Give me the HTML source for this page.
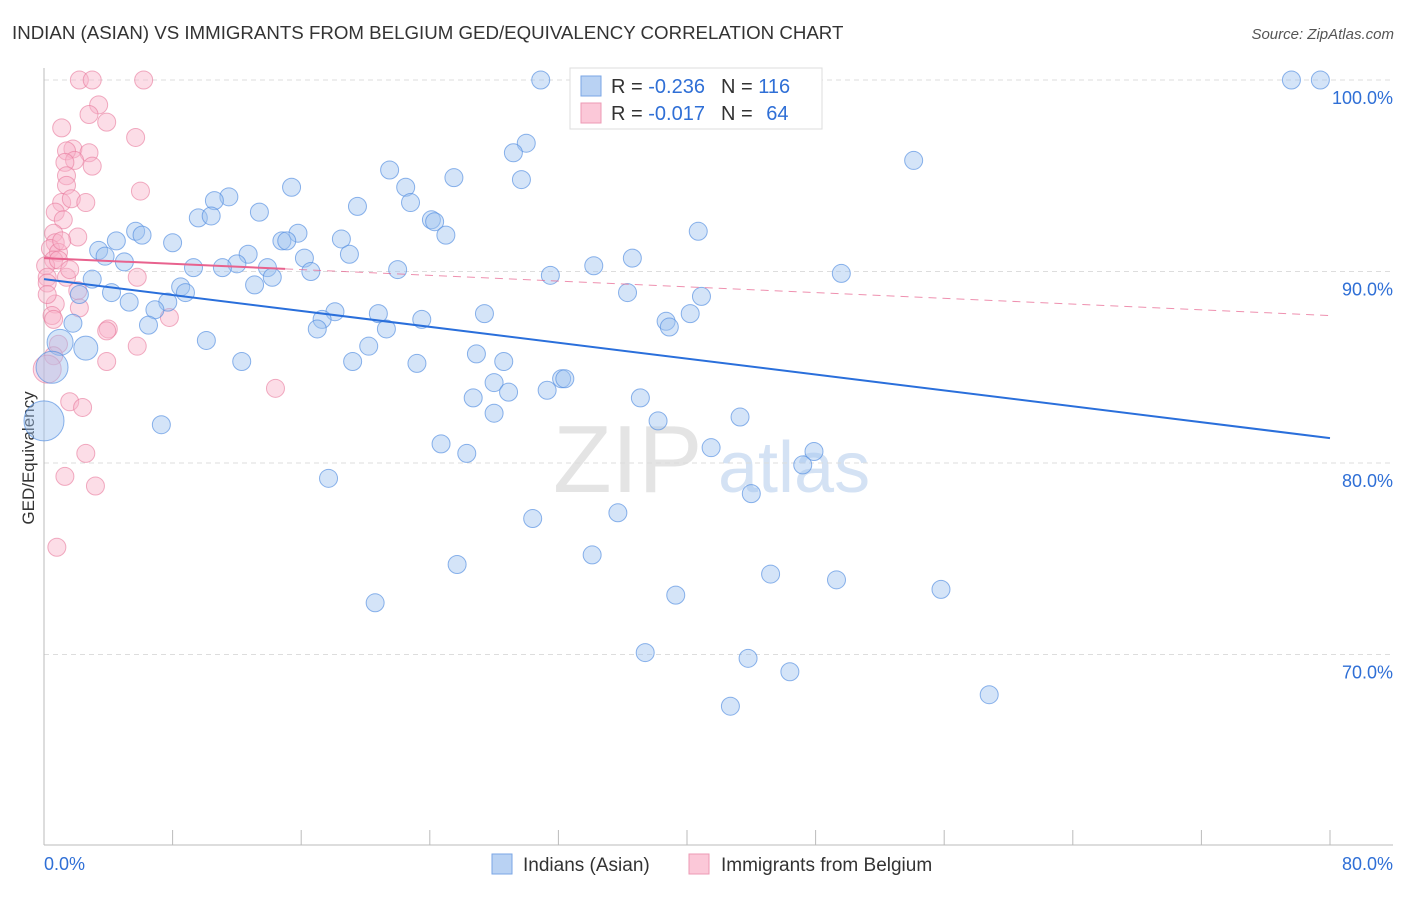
<!DOCTYPE html>
<html><head><meta charset="utf-8"><style>
body{margin:0;background:#fff;font-family:"Liberation Sans",sans-serif}
svg text{font-family:"Liberation Sans",sans-serif}
</style></head><body>
<svg id="chart" width="1406" height="892" viewBox="0 0 1406 892">
<text x="12" y="39" font-size="18.7" fill="#333">INDIAN (ASIAN) VS IMMIGRANTS FROM BELGIUM GED/EQUIVALENCY CORRELATION CHART</text>
<text x="1394" y="39" font-size="15" fill="#555" text-anchor="end" font-style="italic">Source: ZipAtlas.com</text>
<text transform="translate(34,458) rotate(-90)" font-size="17" fill="#333" text-anchor="middle">GED/Equivalency</text>
<g>
<text x="553" y="492" font-size="96" font-family="Liberation Serif,serif" fill="#e4e4e4">ZIP</text>
<text x="718" y="492" font-size="72" fill="#d4e2f4">atlas</text>
</g>
<g id="grid"></g>
<g id="axes"></g>
<g id="pts"></g>
<g id="trend"></g>
<g>
<rect x="570" y="68" width="252" height="61" fill="#fff" stroke="#ddd"/>
<rect x="581" y="76" width="20" height="20" fill="#b9d2f3" stroke="#7aa6e6"/>
<text x="611" y="93" font-size="20" fill="#333">R = <tspan fill="#2f6fd6">-0.236</tspan><tspan dx="16">N = </tspan><tspan fill="#2f6fd6">116</tspan></text>
<rect x="581" y="103" width="20" height="20" fill="#fbc8d8" stroke="#ec9ab4"/>
<text x="611" y="120" font-size="20" fill="#333">R = <tspan fill="#2f6fd6">-0.017</tspan><tspan dx="16">N = </tspan><tspan fill="#2f6fd6" dx="8">64</tspan></text>
</g>
<g>
<rect x="492" y="854" width="20" height="20" fill="#b9d2f3" stroke="#7aa6e6"/>
<text x="523" y="871" font-size="19" fill="#333">Indians (Asian)</text>
<rect x="689" y="854" width="20" height="20" fill="#fbc8d8" stroke="#ec9ab4"/>
<text x="721" y="871" font-size="19" fill="#333">Immigrants from Belgium</text>
</g>
</svg>
<script>
const yTicks=[100,90,80,70];
const yTickLabels=["100.0%","90.0%","80.0%","70.0%"];
const xTicks=[0,8,16,24,32,40,48,56,64,72,80];
const xEndLabels=["0.0%","80.0%"];
const blueX=[30.9,46.8,77.6,79.4,30.0,29.2,54.1,21.5,25.5,29.7,15.4,22.5,11.5,10.6,22.8,19.5,13.4,9.6,10.4,24.1,24.3,5.7,6.1,40.7,25.0,15.8,18.5,4.5,8.0,14.8,15.1,3.4,3.8,12.7,19.0,36.6,5.0,16.2,12.0,11.1,9.3,13.9,34.2,22.0,31.5,14.2,16.6,49.6,3.0,13.1,8.5,36.3,2.2,4.2,8.8,40.9,5.3,7.7,6.9,18.1,27.4,20.8,40.2,17.3,23.5,1.8,6.5,38.7,38.9,17.0,21.3,10.1,1.0,2.6,20.2,26.9,12.3,19.2,28.6,23.2,0.5,32.2,32.4,28.0,28.9,31.3,26.7,37.1,43.3,28.0,38.2,7.3,0,24.7,41.5,47.9,26.3,47.2,17.7,44.0,30.4,35.7,34.1,25.7,45.2,49.3,55.8,39.3,20.6,37.4,43.8,46.4,58.8,42.7];
const blueY=[100,100,100,100,96.7,96.2,95.8,95.3,94.9,94.8,94.4,94.4,93.9,93.7,93.6,93.4,93.1,92.8,92.9,92.7,92.6,92.1,91.9,92.1,91.9,92.0,91.7,91.6,91.5,91.6,91.6,91.1,90.8,90.9,90.9,90.7,90.5,90.7,90.4,90.2,90.2,90.2,90.3,90.1,89.8,89.7,90.0,89.9,89.6,89.3,89.2,88.9,88.8,88.9,88.9,88.7,88.4,88.4,88.0,87.9,87.8,87.8,87.8,87.5,87.5,87.3,87.2,87.4,87.1,87.0,87.0,86.4,86.3,86.0,86.1,85.7,85.3,85.3,85.3,85.2,85.0,84.4,84.4,84.2,83.7,83.8,83.4,83.4,82.4,82.6,82.2,82.0,82.2,81.0,80.8,80.6,80.5,79.9,79.2,78.4,77.1,77.4,75.2,74.7,74.2,73.9,73.4,73.1,72.7,70.1,69.8,69.1,67.9,67.3];
const blueBig={80:16,92:20,72:13,73:12};
const pinkX=[2.2,3.0,6.2,3.4,2.8,3.9,1.1,5.7,1.8,1.4,2.8,1.9,1.3,3.0,6.0,1.4,1.4,1.1,1.7,2.6,0.7,1.2,2.1,0.6,0.7,0.4,0.9,0.6,0.1,0.9,1.4,0.2,5.8,2.1,0.7,2.2,0.5,0.6,7.8,0.2,4.0,3.9,0.9,0.6,5.8,3.9,0.2,14.4,1.6,2.4,2.6,1.3,3.2,0.8,0.2,1.1,1.6];
const pinkY=[100,100,100,98.7,98.2,97.8,97.5,97.0,96.4,96.3,96.2,95.8,95.7,95.5,94.2,95.0,94.5,93.6,93.8,93.6,93.1,92.7,91.8,92.0,91.5,91.2,91.0,90.6,90.3,90.6,89.7,89.7,89.7,89.0,88.3,88.1,87.7,87.5,87.6,89.4,87.0,86.9,86.2,85.6,86.1,85.3,84.9,83.9,83.2,82.9,80.5,79.3,78.8,75.6,88.8,91.6,90.1];
const pinkBig={46:14};
const blueTrend=[89.6,81.3];
const pinkTrend=[90.7,87.7];
const pinkSolidEnd=15;

const X0=44,X1=1330,Y100=80,PX10=191.5;
const xs=v=>X0+(v/80)*(X1-X0);
const ys=v=>Y100+(100-v)*PX10/10;
const NS="http://www.w3.org/2000/svg";
function mk(tag,attrs,parent){const e=document.createElementNS(NS,tag);for(const k in attrs)e.setAttribute(k,attrs[k]);parent.appendChild(e);return e;}
const grid=document.getElementById('grid'),axes=document.getElementById('axes'),pts=document.getElementById('pts'),trend=document.getElementById('trend');
yTicks.forEach((t,i)=>{
 const l=mk('line',{x1:X0,x2:1393,y1:ys(t),y2:ys(t),stroke:'#ddd','stroke-dasharray':'5,4'},grid);
 
 
 const tx=mk('text',{x:1393,y:ys(t)+24,'font-size':18,fill:'#2f6fd6','text-anchor':'end'},axes);
 tx.textContent=yTickLabels[i];
 
 
});
const ax=mk('line',{x1:X0,x2:X0,y1:68,y2:845,stroke:'#bbb'},axes);


const bx=mk('line',{x1:X0,x2:1393,y1:845,y2:845,stroke:'#bbb'},axes);


xTicks.forEach(t=>{
 const l=mk('line',{x1:xs(t),x2:xs(t),y1:830,y2:845,stroke:'#bbb'},axes);
 
 
});
const xl0=mk('text',{x:44,y:870,'font-size':18,fill:'#2f6fd6'},axes);xl0.textContent=xEndLabels[0];


const xl1=mk('text',{x:1393,y:870,'font-size':18,fill:'#2f6fd6','text-anchor':'end'},axes);xl1.textContent=xEndLabels[1];


pinkX.forEach((v,i)=>{
 const c=mk('circle',{cx:xs(v),cy:ys(pinkY[i]),r:pinkBig[i]||9,fill:'rgba(249,180,202,0.45)',stroke:'rgba(232,120,155,0.6)','stroke-width':1},pts);
 
 
});
blueX.forEach((v,i)=>{
 const c=mk('circle',{cx:xs(v),cy:ys(blueY[i]),r:blueBig[i]||9,fill:'rgba(160,195,240,0.45)',stroke:'rgba(80,140,225,0.65)','stroke-width':1},pts);
 
 
});
const bl=mk('line',{x1:xs(0),y1:ys(blueTrend[0]),x2:xs(80),y2:ys(blueTrend[1]),stroke:'#2a6fdb','stroke-width':2},trend);


const pm=pinkTrend[0]+(pinkTrend[1]-pinkTrend[0])*pinkSolidEnd/80;
const ps=mk('line',{x1:xs(0),y1:ys(pinkTrend[0]),x2:xs(pinkSolidEnd),y2:ys(pm),stroke:'#e8628e','stroke-width':2},trend);


const pd=mk('line',{x1:xs(pinkSolidEnd),y1:ys(pm),x2:xs(80),y2:ys(pinkTrend[1]),stroke:'#e8628e','stroke-width':1,'stroke-dasharray':'8,6',opacity:0.7},trend);


</script>
</body></html>
